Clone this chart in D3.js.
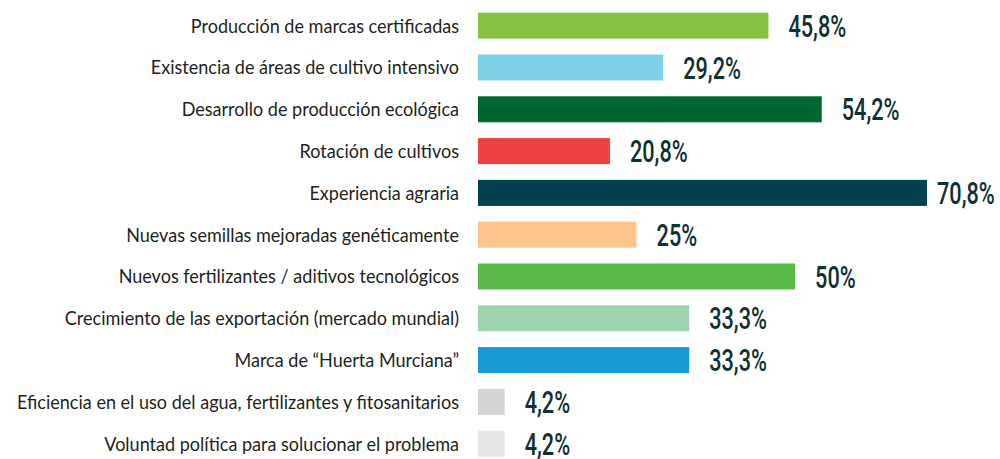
<!DOCTYPE html>
<html lang="es">
<head>
    <meta charset="UTF-8">
    <script src="https://d3js.org/d3.v7.min.js"></script>
    <style>
        body { margin: 0; background: #fff; }
    </style>
</head>
<body>
    <div class="chart"></div>
    <script>
        // data
        var categories = [
            "Producción de marcas certificadas",
            "Existencia de áreas de cultivo intensivo",
            "Desarrollo de producción ecológica",
            "Rotación de cultivos",
            "Experiencia agraria",
            "Nuevas semillas mejoradas genéticamente",
            "Nuevos fertilizantes / aditivos tecnológicos",
            "Crecimiento de las exportación (mercado mundial)",
            "Marca de “Huerta Murciana”",
            "Eficiencia en el uso del agua, fertilizantes y fitosanitarios",
            "Voluntad política para solucionar el problema"
        ]
        var values = [45.8, 29.2, 54.2, 20.8, 70.8, 25, 50, 33.3, 33.3, 4.2, 4.2]
        var valueLabels = ["45,8%", "29,2%", "54,2%", "20,8%", "70,8%", "25%", "50%", "33,3%", "33,3%", "4,2%", "4,2%"]
        var barColors = ["#84c341", "#7dd0e6", "#00662f", "#ee4045", "#024152", "#fdc589",
            "#58b947", "#9dd3ad", "#1799d6", "#d3d3d5", "#e6e6e6"]

        var width = 1000
        var height = 459
        var barLeft = 478

        var svg = d3.select(".chart").append("svg")
            .attr("width", width)
            .attr("height", height)

        var data = categories.map(function (c, i) {
            return { cat: c, value: values[i], label: valueLabels[i], color: barColors[i] }
        })

        var xScale = d3.scaleLinear()
            .domain([0, 70.8])
            .range([0, 449])

        var yScale = d3.scaleBand()
            .domain(categories)
            .range([4.8, 464.6])
            .paddingInner(0.378)
            .paddingOuter(0.189)

        var rows = svg.selectAll("g.row")
            .data(data)
            .enter().append("g")
            .attr("class", "row")
            .attr("transform", function (d) { return "translate(0," + yScale(d.cat) + ")" })

        var bh = yScale.bandwidth()

        rows.append("rect")
            .attr("x", barLeft)
            .attr("y", 0)
            .attr("width", function (d) { return xScale(d.value) })
            .attr("height", bh)
            .style("fill", function (d) { return d.color })

        // category labels (slightly condensed)
        rows.append("text")
            .attr("transform", "translate(459," + (bh / 2) + ") scale(0.95,1)")
            .attr("text-anchor", "end")
            .attr("dy", "0.36em")
            .style("font-family", "Lato, 'Open Sans', sans-serif")
            .style("font-size", "19px")
            .style("fill", "#231f20")
            .text(function (d) { return d.cat })

        // value labels
        rows.append("text")
            .attr("transform", function (d) {
                var x = Math.min(barLeft + xScale(d.value) + 20, 937)
                return "translate(" + x + "," + (bh / 2) + ") scale(0.7,1)"
            })
            .attr("dy", "0.36em")
            .style("font-family", "Roboto, sans-serif")
            .style("font-weight", "500")
            .style("font-size", "31px")
            .style("fill", "#0f3131")
            .text(function (d) { return d.label })
    </script>
</body>
</html>
